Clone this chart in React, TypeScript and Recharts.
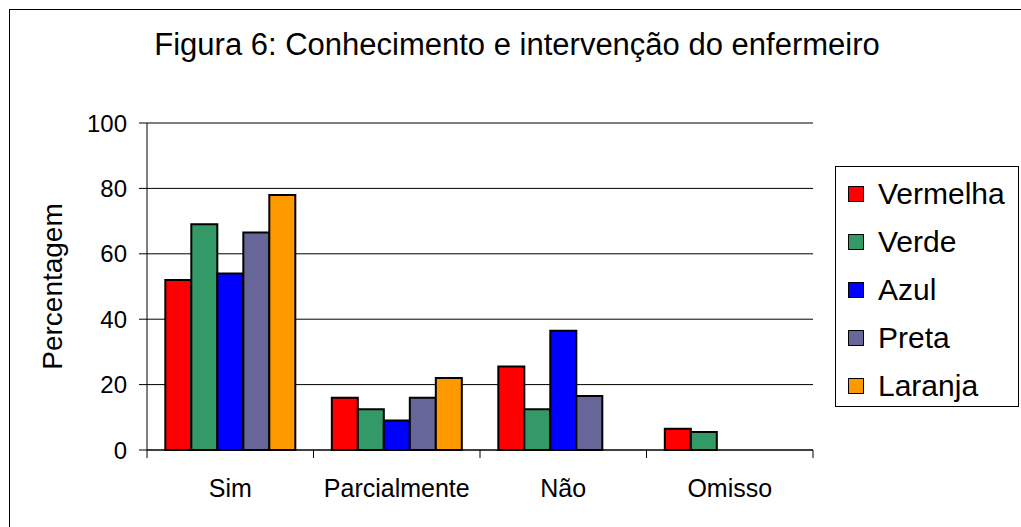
import { BarChart, Bar, XAxis, YAxis, CartesianGrid } from "recharts";

const categories = ["Sim", "Parcialmente", "Não", "Omisso"];
const vermelha = [52, 16, 25.5, 6.5];
const verde = [69, 12.5, 12.5, 5.5];
const azul = [54, 9, 36.5, null];
const preta = [66.5, 16, 16.5, null];
const laranja = [78, 22, null, null];
const yTicks = [0, 20, 40, 60, 80, 100];

const series = [
  { key: "Vermelha", values: vermelha, color: "#FF0000" },
  { key: "Verde", values: verde, color: "#339966" },
  { key: "Azul", values: azul, color: "#0000FF" },
  { key: "Preta", values: preta, color: "#666699" },
  { key: "Laranja", values: laranja, color: "#FF9900" },
];

const data = categories.map((name, i) => {
  const row: Record<string, string | number | null> = { name };
  series.forEach((s) => {
    row[s.key] = s.values[i];
  });
  return row;
});

const font = "Arial, 'Liberation Sans', sans-serif";

// category label in the middle, tick marks on the category borders
const CategoryTick = (props: any) => {
  const { x, y, payload, index, width, visibleTicksCount } = props;
  const band = width / visibleTicksCount;
  const left = x - band / 2;
  return (
    <g>
      <line x1={left} y1={y} x2={left} y2={y + 8} stroke="#000" />
      {index === visibleTicksCount - 1 && (
        <line x1={left + band} y1={y} x2={left + band} y2={y + 8} stroke="#000" />
      )}
      <text x={x} y={y + 47} textAnchor="middle" fontSize={25} fill="#000" fontFamily={font}>
        {payload.value}
      </text>
    </g>
  );
};

const LegendBox = () => (
  <div
    style={{
      position: "absolute",
      left: 835,
      top: 166,
      border: "1px solid #000",
      boxSizing: "border-box",
      width: 184,
      height: 241,
      paddingTop: 3,
      paddingLeft: 12,
      background: "#fff",
      fontFamily: font,
    }}
  >
    {series.map((s) => (
      <div key={s.key} style={{ display: "flex", alignItems: "center", height: 48, fontSize: 30 }}>
        <span
          style={{
            display: "inline-block",
            width: 16,
            height: 16,
            background: s.color,
            border: "1px solid #000",
            boxSizing: "border-box",
            marginRight: 14,
          }}
        />
        <span style={{ lineHeight: "30px" }}>{s.key}</span>
      </div>
    ))}
  </div>
);

const App = () => {
  return (
    <div
      style={{
        position: "absolute",
        left: 0,
        top: 0,
        width: 1021,
        height: 527,
        overflow: "hidden",
        background: "#fff",
        fontFamily: font,
      }}
    >
      <div
        style={{
          position: "absolute",
          left: 9,
          top: 9,
          width: 1040,
          height: 560,
          border: "1px solid #000",
        }}
      />
      <div
        style={{
          position: "absolute",
          left: 0,
          top: 30,
          width: 1034,
          textAlign: "center",
          fontSize: 31,
          lineHeight: "30px",
          color: "#000",
        }}
      >
        Figura 6: Conhecimento e intervenção do enfermeiro
      </div>
      <div style={{ position: "absolute", left: 0, top: 0 }}>
        <BarChart
          width={1021}
          height={527}
          data={data}
          margin={{ top: 123, right: 208, left: 20, bottom: 47 }}
          barCategoryGap="11%"
          barGap={0}
        >
          <CartesianGrid vertical={false} stroke="#000" strokeWidth={1} />
          <XAxis
            dataKey="name"
            axisLine={{ stroke: "#000" }}
            tickLine={false}
            tickSize={0}
            tickMargin={0}
            height={30}
            interval={0}
            tick={<CategoryTick />}
          />
          <XAxis xAxisId="top" orientation="top" dataKey="name" tick={false} tickLine={false} height={0} axisLine={{ stroke: "#999" }} />
          <YAxis
            domain={[0, 100]}
            ticks={yTicks}
            interval={0}
            width={127}
            tickSize={8}
            tickMargin={12}
            axisLine={{ stroke: "#000" }}
            tickLine={{ stroke: "#000" }}
            tick={{ fontSize: 24, fill: "#000", fontFamily: font }}
            label={{
              content: ({ viewBox }: any) => {
                const cx = viewBox.x + 32;
                const cy = viewBox.y + viewBox.height / 2;
                return (
                  <text
                    x={cx}
                    y={cy}
                    transform={`rotate(-90, ${cx}, ${cy})`}
                    textAnchor="middle"
                    dominantBaseline="central"
                    fontSize={28}
                    fill="#000"
                    fontFamily={font}
                  >
                    Percentagem
                  </text>
                );
              },
            }}
          />
          <YAxis yAxisId="right" orientation="right" domain={[0, 100]} tick={false} tickLine={false} width={0} axisLine={{ stroke: "#999" }} />
          {series.map((s) => (
            <Bar
              key={s.key}
              dataKey={s.key}
              fill={s.color}
              stroke="#000"
              strokeWidth={2}
              isAnimationActive={false}
            />
          ))}
        </BarChart>
      </div>
      <LegendBox />
    </div>
  );
};

export default App;
